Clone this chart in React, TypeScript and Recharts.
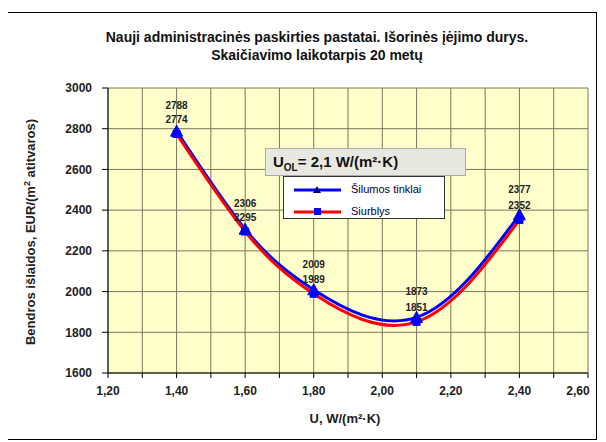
import { CartesianGrid, LabelList, Line, LineChart, XAxis, YAxis } from "recharts";

// values
const uValues = [1.4, 1.6, 1.8, 2.1, 2.4];
const silumosTinklai = [2788, 2306, 2009, 1873, 2377];
const siurblys = [2774, 2295, 1989, 1851, 2352];

const xTicks = [1.2, 1.3, 1.4, 1.5, 1.6, 1.7, 1.8, 1.9, 2.0, 2.1, 2.2, 2.3, 2.4, 2.5, 2.6];
const yTicks = [1600, 1800, 2000, 2200, 2400, 2600, 2800, 3000];

const data = uValues.map((u, i) => ({
  u,
  silumos: silumosTinklai[i],
  siurblys: siurblys[i],
}));

const font = "'Liberation Sans', Arial, sans-serif";

const Triangle = (props: any) => {
  const { cx, cy } = props;
  if (cx == null || cy == null) return null;
  return (
    <polygon
      points={`${cx},${cy - 6} ${cx + 6},${cy + 5} ${cx - 6},${cy + 5}`}
      fill="#0000ff"
      stroke="#0000cc"
    />
  );
};

const Square = (props: any) => {
  const { cx, cy } = props;
  if (cx == null || cy == null) return null;
  return <rect x={cx - 4} y={cy - 4} width={8} height={8} fill="#0000ff" />;
};

// only every second tick gets a label; the last one is pulled in so it fits
const XTick = (props: any) => {
  const { x, y, payload } = props;
  const v = payload.value as number;
  if (Math.round(v * 10) % 2 !== 0) return null;
  const shift = v >= 2.6 ? -10 : 0;
  return (
    <text
      x={x + shift}
      y={y}
      dy="0.71em"
      textAnchor="middle"
      fill="#222"
      fontSize={12}
      fontWeight="bold"
      fontFamily={font}
    >
      {v.toFixed(2).replace(".", ",")}
    </text>
  );
};

const labelStyle = { fill: "#222", fontSize: 10, fontWeight: "bold", fontFamily: font };

const App = () => {
  return (
    <div
      style={{
        position: "relative",
        width: 590,
        height: 428,
        marginTop: 4,
        marginLeft: -1,
        border: "1px solid #000",
        boxSizing: "border-box",
        fontFamily: font,
        background: "#fff",
      }}
    >
      <div
        style={{
          position: "absolute",
          left: 15,
          top: 15,
          width: 588,
          textAlign: "center",
          fontWeight: "bold",
          fontSize: 14,
          lineHeight: "18px",
          color: "#111",
        }}
      >
        Nauji administracinės paskirties pastatai. Išorinės įėjimo durys.
        <br />
        Skaičiavimo laikotarpis 20 metų
      </div>

      <LineChart
        width={588}
        height={426}
        data={data}
        margin={{ top: 75, right: 8, left: 40, bottom: 36 }}
      >
        <CartesianGrid stroke="#77775a" fill="#ffffcc" strokeWidth={1} />
        <XAxis
          dataKey="u"
          type="number"
          domain={[1.2, 2.6]}
          ticks={xTicks}
          interval={0}
          height={30}
          tickSize={5}
          tickMargin={8}
          stroke="#000"
          tick={<XTick />}
        />
        <YAxis
          type="number"
          domain={[1600, 3000]}
          ticks={yTicks}
          interval={0}
          width={60}
          tickSize={6}
          tickMargin={10}
          stroke="#000"
          tick={{ fill: "#222", fontSize: 12, fontWeight: "bold", fontFamily: font }}
        />
        <Line
          type="natural"
          dataKey="silumos"
          stroke="#0000ff"
          strokeWidth={3}
          dot={<Triangle />}
          activeDot={false}
          isAnimationActive={false}
        >
          <LabelList dataKey="silumos" position="top" offset={22} style={labelStyle} />
        </Line>
        <Line
          type="natural"
          dataKey="siurblys"
          stroke="#ff0000"
          strokeWidth={3}
          dot={<Square />}
          activeDot={false}
          isAnimationActive={false}
        >
          <LabelList dataKey="siurblys" position="top" offset={11} style={labelStyle} />
        </Line>
      </LineChart>

      {/* axis titles */}
      <div
        style={{
          position: "absolute",
          left: 22,
          top: 219,
          transform: "translate(-50%, -50%) rotate(-90deg)",
          whiteSpace: "nowrap",
          fontWeight: "bold",
          fontSize: 13,
          color: "#222",
        }}
      >
        Bendros išlaidos, EUR/(m<sup style={{ fontSize: 9 }}>2</sup> atitvaros)
      </div>
      <div
        style={{
          position: "absolute",
          left: 337,
          top: 405,
          transform: "translate(-50%, -50%)",
          whiteSpace: "nowrap",
          fontWeight: "bold",
          fontSize: 13,
          color: "#222",
        }}
      >
        U, W/(m²·K)
      </div>

      {/* U_OL note */}
      <div
        style={{
          position: "absolute",
          left: 257,
          top: 135,
          width: 201,
          height: 28,
          boxSizing: "border-box",
          background: "#e8e8e0",
          border: "1px solid #aaa",
          fontWeight: "bold",
          fontSize: 15,
          lineHeight: "26px",
          paddingLeft: 7,
          color: "#111",
        }}
      >
        U<sub style={{ fontSize: 10 }}>OL</sub>= 2,1 W/(m²·K)
      </div>

      {/* legend */}
      <div
        style={{
          position: "absolute",
          left: 275,
          top: 163,
          width: 162,
          height: 43,
          boxSizing: "border-box",
          background: "#fff",
          border: "1px solid #333",
          fontSize: 11,
          color: "#000033",
        }}
      >
        <svg width={60} height={43} style={{ position: "absolute", left: 0, top: 0 }}>
          <line x1={10} y1={13} x2={57} y2={13} stroke="#0000ff" strokeWidth={3} />
          <polygon points="33,9 37,16 29,16" fill="#000080" />
          <line x1={10} y1={35} x2={57} y2={35} stroke="#ff0000" strokeWidth={3} />
          <rect x={30} y={31} width={7} height={7} fill="#0000ff" />
        </svg>
        <div style={{ position: "absolute", left: 67, top: 6 }}>Šilumos tinklai</div>
        <div style={{ position: "absolute", left: 67, top: 28 }}>Siurblys</div>
      </div>
    </div>
  );
};

export default App;
